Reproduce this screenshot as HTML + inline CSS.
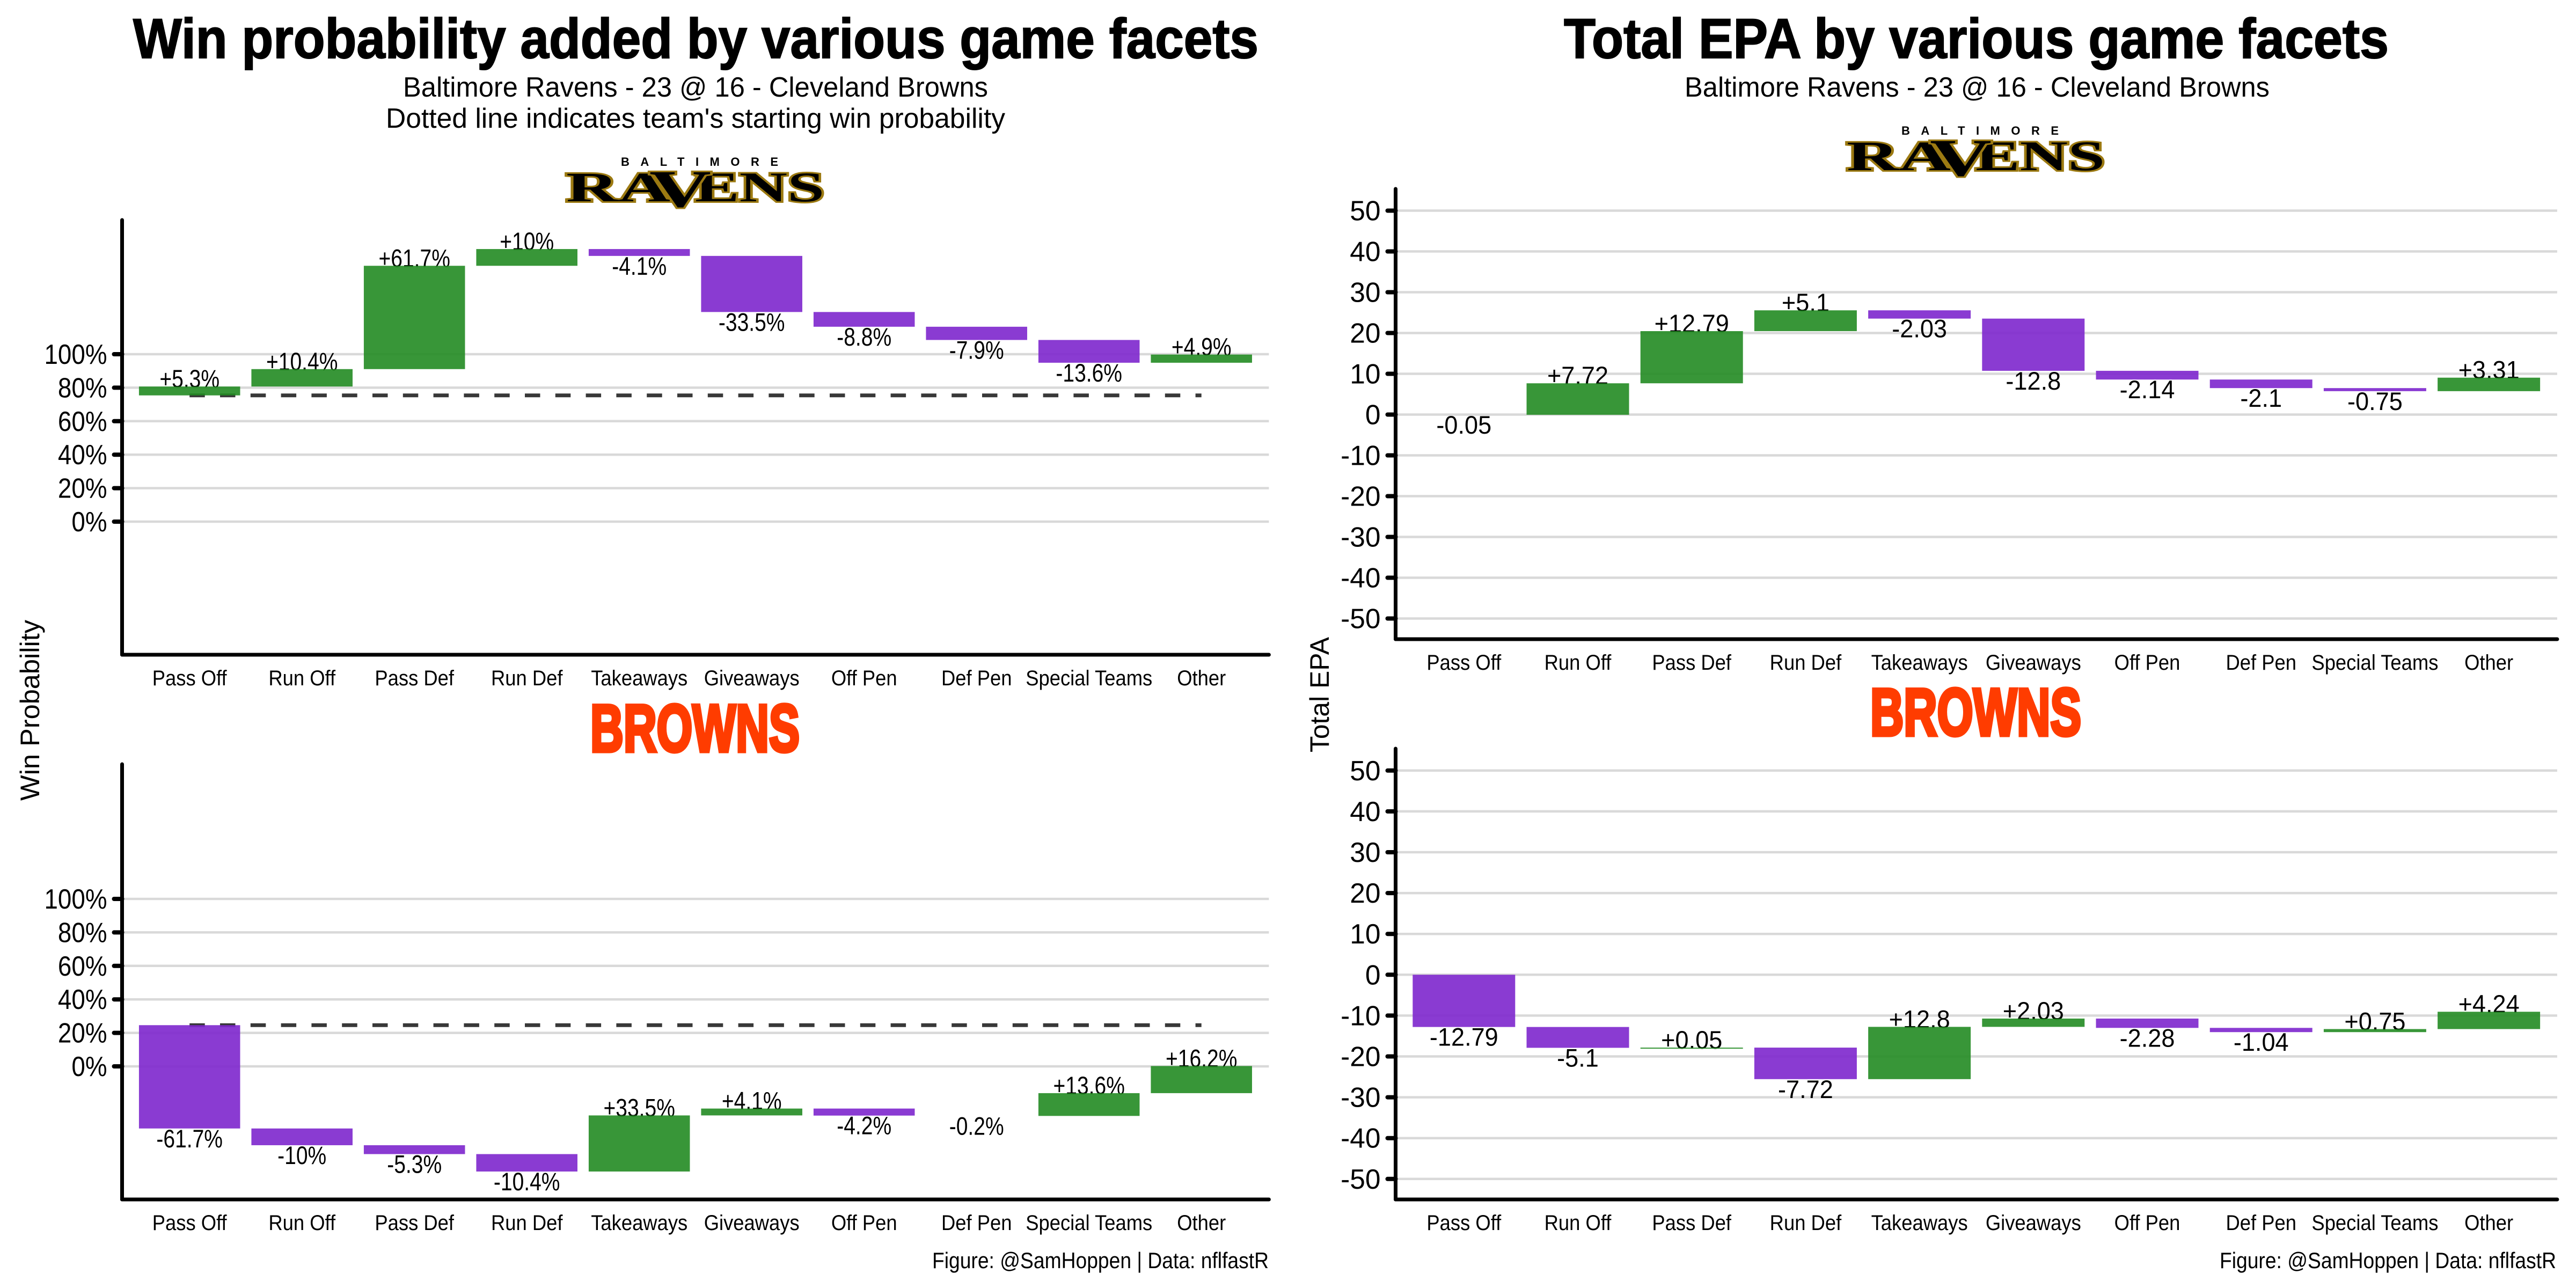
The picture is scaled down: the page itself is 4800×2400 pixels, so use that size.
<!DOCTYPE html>
<html lang="en">
<head>
<meta charset="utf-8">
<title>Win probability and EPA by game facets</title>
<style>
html,body{margin:0;padding:0;background:#fff;width:4800px;height:2400px;overflow:hidden}
svg{display:block}
text{font-family:"Liberation Sans",sans-serif;fill:#000}
.serif{font-family:"Liberation Serif",serif;font-weight:700}
</style>
</head>
<body>
<svg id="figure" xmlns="http://www.w3.org/2000/svg" width="4800" height="2400" viewBox="0 0 4800 2400">
  <rect width="4800" height="2400" fill="#fff"/>

  <text x="248" y="108" font-size="105" font-weight="700" stroke="#000" stroke-width="2" textLength="2097" lengthAdjust="spacingAndGlyphs">Win probability added by various game facets</text>
  <text x="751" y="180" font-size="52" textLength="1090" lengthAdjust="spacingAndGlyphs">Baltimore Ravens - 23 @ 16 - Cleveland Browns</text>
  <text x="719" y="238" font-size="52" textLength="1154" lengthAdjust="spacingAndGlyphs">Dotted line indicates team's starting win probability</text>

  <text x="2914" y="108" font-size="105" font-weight="700" stroke="#000" stroke-width="2" textLength="1537" lengthAdjust="spacingAndGlyphs">Total EPA by various game facets</text>
  <text x="3139" y="180" font-size="52" textLength="1090" lengthAdjust="spacingAndGlyphs">Baltimore Ravens - 23 @ 16 - Cleveland Browns</text>

  <text transform="translate(73,1492) rotate(-90)" font-size="50" textLength="337" lengthAdjust="spacingAndGlyphs">Win Probability</text>
  <text transform="translate(2476,1402) rotate(-90)" font-size="50" textLength="215" lengthAdjust="spacingAndGlyphs">Total EPA</text>

  <g transform="translate(1055,322)">
    <text x="102" y="-13" font-size="22" font-weight="700" textLength="293" lengthAdjust="spacing">BALTIMORE</text>
    <text class="serif" x="0" y="53" font-size="78" stroke="#9c7a12" stroke-width="6" paint-order="stroke" textLength="194" lengthAdjust="spacingAndGlyphs">RA</text>
    <text class="serif" x="240" y="53" font-size="78" stroke="#9c7a12" stroke-width="6" paint-order="stroke" textLength="241" lengthAdjust="spacingAndGlyphs">ENS</text>
    <text class="serif" x="155" y="63" font-size="98" stroke="#9c7a12" stroke-width="6" paint-order="stroke" textLength="115" lengthAdjust="spacingAndGlyphs">V</text>
  </g>
  <g transform="translate(3441,264)">
    <text x="102" y="-13" font-size="22" font-weight="700" textLength="293" lengthAdjust="spacing">BALTIMORE</text>
    <text class="serif" x="0" y="53" font-size="78" stroke="#9c7a12" stroke-width="6" paint-order="stroke" textLength="194" lengthAdjust="spacingAndGlyphs">RA</text>
    <text class="serif" x="240" y="53" font-size="78" stroke="#9c7a12" stroke-width="6" paint-order="stroke" textLength="241" lengthAdjust="spacingAndGlyphs">ENS</text>
    <text class="serif" x="155" y="63" font-size="98" stroke="#9c7a12" stroke-width="6" paint-order="stroke" textLength="115" lengthAdjust="spacingAndGlyphs">V</text>
  </g>

  <text x="1100" y="1400" font-size="124" font-weight="700" style="fill:#ff3c00" stroke="#ff3c00" stroke-width="7" textLength="390" lengthAdjust="spacingAndGlyphs">BROWNS</text>
  <text x="3485" y="1370" font-size="124" font-weight="700" style="fill:#ff3c00" stroke="#ff3c00" stroke-width="7" textLength="393" lengthAdjust="spacingAndGlyphs">BROWNS</text>

  <g id="panels"></g>

  <text x="1737" y="2363" font-size="42" textLength="627" lengthAdjust="spacingAndGlyphs">Figure: @SamHoppen | Data: nflfastR</text>
  <text x="4136" y="2363" font-size="42" textLength="627" lengthAdjust="spacingAndGlyphs">Figure: @SamHoppen | Data: nflfastR</text>
</svg>

<script>
const categories = ["Pass Off", "Run Off", "Pass Def", "Run Def", "Takeaways", "Giveaways", "Off Pen", "Def Pen", "Special Teams", "Other"];

const winProbTicks = [100, 80, 60, 40, 20, 0];
const epaTicks = [50, 40, 30, 20, 10, 0, -10, -20, -30, -40, -50];

const ravensWinProbStart = 75.4;
const ravensWinProbDeltas = [5.3, 10.4, 61.7, 10, -4.1, -33.5, -8.8, -7.9, -13.6, 4.9];

const brownsWinProbStart = 24.6;
const brownsWinProbDeltas = [-61.7, -10, -5.3, -10.4, 33.5, 4.1, -4.2, -0.2, 13.6, 16.2];

const ravensEpaStart = 0;
const ravensEpaDeltas = [-0.05, 7.72, 12.79, 5.1, -2.03, -12.8, -2.14, -2.1, -0.75, 3.31];

const brownsEpaStart = 0;
const brownsEpaDeltas = [-12.79, -5.1, 0.05, -7.72, 12.8, 2.03, -2.28, -1.04, 0.75, 4.24];

const SVG_NS = "http://www.w3.org/2000/svg";
const root = document.getElementById("panels");

function mk(tag, attrs, parent) {
  const el = document.createElementNS(SVG_NS, tag);
  for (const k in attrs) el.setAttribute(k, attrs[k]);
  parent.appendChild(el);
  return el;
}

function slug(s) {
  return String(s).toLowerCase().replace(/[^a-z0-9]+/g, "-");
}

function drawPanel(cfg) {
  const xScale = i => cfg.left + (0.6 + i) * cfg.band;
  const yScale = v => cfg.zero - v * cfg.unit;
  const right = cfg.left + 10.2 * cfg.band;
  const barWidth = cfg.band * 0.9;

  const g = mk("g", {}, root);
  
  

  // gridlines
  cfg.ticks.forEach(t => {
    const line = mk("line", {x1: cfg.left, x2: right, y1: yScale(t), y2: yScale(t), stroke: "#d9d9d9", "stroke-width": 4.5}, g);
    
    
  });

  // walk the waterfall once so that labels can be drawn beneath the bars
  const steps = [];
  let cur = cfg.start;
  cfg.deltas.forEach((d, i) => {
    const next = cur + d;
    steps.push({i: i, d: d, hi: Math.max(cur, next), lo: Math.min(cur, next)});
    cur = next;
  });

  // value labels
  steps.forEach(s => {
    const up = s.d >= 0;
    const yBase = up ? yScale(s.hi) + 2 : yScale(s.lo) + 35;
    const sx = cfg.suffix ? 0.83 : 0.96;
    const label = mk("text", {
      transform: "translate(" + xScale(s.i) + "," + yBase + ") scale(" + sx + ",1)",
      "text-anchor": "middle", "font-size": 47
    }, g);
    label.textContent = (up ? "+" : "") + s.d + cfg.suffix;
    
    
  });

  // starting win probability reference
  if (cfg.dashed) {
    const dash = mk("line", {
      x1: xScale(0), x2: xScale(cfg.deltas.length - 1),
      y1: yScale(cfg.start), y2: yScale(cfg.start),
      stroke: "#383838", "stroke-width": 7, "stroke-dasharray": "28.5 28.3"
    }, g);
    
    
  }

  // bars
  steps.forEach(s => {
    let h = yScale(s.lo) - yScale(s.hi);
    const gain = s.d >= 0;
    if (!gain && h < 1) return;
    if (gain && h < 2) h = 2;
    const bar = mk("rect", {
      x: xScale(s.i) - barWidth / 2, y: yScale(s.hi), width: barWidth, height: h,
      fill: gain ? "#228b22" : "#7d26cd", "fill-opacity": 0.9
    }, g);
    
    
  });

  // y axis ticks and labels
  cfg.ticks.forEach(t => {
    const tick = mk("line", {
      x1: cfg.left - 15, x2: cfg.left, y1: yScale(t), y2: yScale(t),
      stroke: "#000", "stroke-width": 8, "stroke-linecap": "round"
    }, g);
    
    

    const sx = cfg.suffix ? 0.88 : 0.99;
    const tl = mk("text", {
      transform: "translate(" + (cfg.left - 28) + "," + (yScale(t) + 18) + ") scale(" + sx + ",1)",
      "text-anchor": "end", "font-size": 52
    }, g);
    tl.textContent = t + cfg.suffix;
    
    
  });

  // x axis labels
  categories.forEach((c, i) => {
    const xl = mk("text", {
      transform: "translate(" + xScale(i) + "," + (cfg.bottom + 57) + ") scale(0.91,1)",
      "text-anchor": "middle", "font-size": 40
    }, g);
    xl.textContent = c;
    
    
  });

  // axis lines
  const yAxis = mk("line", {
    x1: cfg.left, x2: cfg.left, y1: cfg.top, y2: cfg.bottom,
    stroke: "#000", "stroke-width": 7, "stroke-linecap": "round"
  }, g);
  
  

  const xAxis = mk("line", {
    x1: cfg.left, x2: right, y1: cfg.bottom, y2: cfg.bottom,
    stroke: "#000", "stroke-width": 7, "stroke-linecap": "round"
  }, g);
  
  
}

drawPanel({name: "ravens-win-probability", left: 227.5, band: 209.5, top: 410, bottom: 1220, zero: 972, unit: 3.12,
  start: ravensWinProbStart, deltas: ravensWinProbDeltas, ticks: winProbTicks, suffix: "%", dashed: true});
drawPanel({name: "browns-win-probability", left: 227.5, band: 209.5, top: 1424, bottom: 2235, zero: 1987, unit: 3.12,
  start: brownsWinProbStart, deltas: brownsWinProbDeltas, ticks: winProbTicks, suffix: "%", dashed: true});
drawPanel({name: "ravens-epa", left: 2600.5, band: 212.2, top: 352, bottom: 1191, zero: 772.5, unit: 7.6,
  start: ravensEpaStart, deltas: ravensEpaDeltas, ticks: epaTicks, suffix: "", dashed: false});
drawPanel({name: "browns-epa", left: 2600.5, band: 212.2, top: 1395, bottom: 2235, zero: 1816.3, unit: 7.61,
  start: brownsEpaStart, deltas: brownsEpaDeltas, ticks: epaTicks, suffix: "", dashed: false});
</script>
</body>
</html>
